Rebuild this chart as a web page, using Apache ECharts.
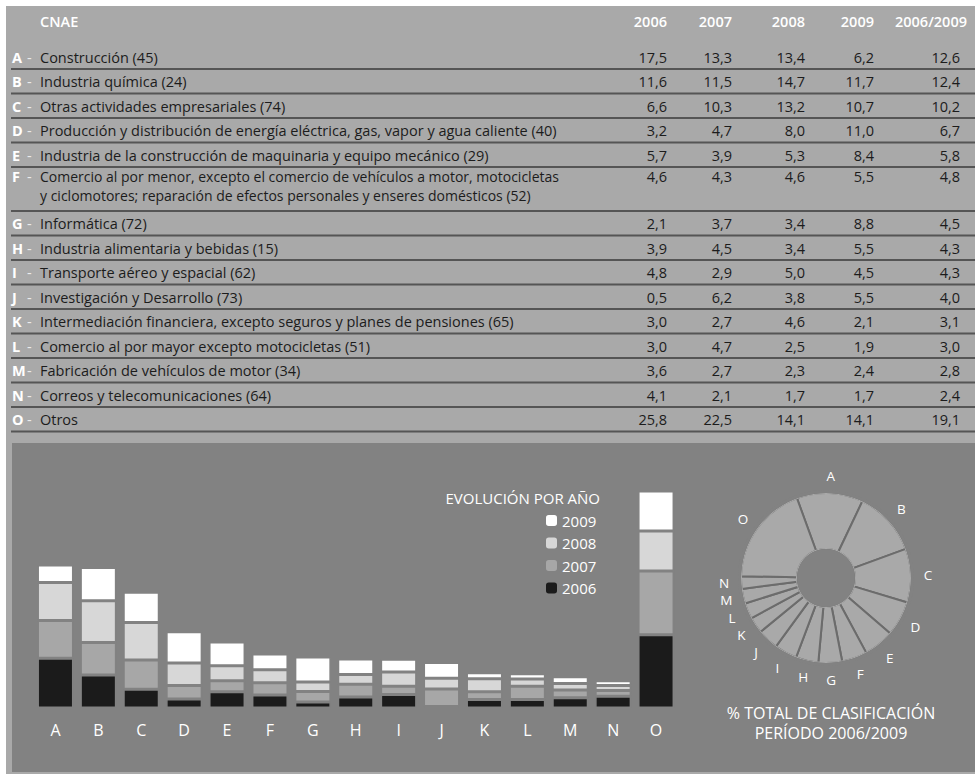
<!DOCTYPE html>
<html>
<head>
<meta charset="utf-8">
<script src="https://cdn.jsdelivr.net/npm/echarts@6/dist/echarts.min.js"></script>
<style>
  html, body { margin: 0; padding: 0; background: #ffffff; }
  #chart { width: 975px; height: 774px; }
</style>
</head>
<body>
<div id="chart"></div>
<script>
// CNAE sectors: letter codes, descriptions and yearly shares (%)
const codes = ['A','B','C','D','E','F','G','H','I','J','K','L','M','N','O'];
const descriptions = [
  ['Construcción (45)'],
  ['Industria química (24)'],
  ['Otras actividades empresariales (74)'],
  ['Producción y distribución de energía eléctrica, gas, vapor y agua caliente (40)'],
  ['Industria de la construcción de maquinaria y equipo mecánico (29)'],
  ['Comercio al por menor, excepto el comercio de vehículos a motor, motocicletas',
   'y ciclomotores; reparación de efectos personales y enseres domésticos (52)'],
  ['Informática (72)'],
  ['Industria alimentaria y bebidas (15)'],
  ['Transporte aéreo y espacial (62)'],
  ['Investigación y Desarrollo (73)'],
  ['Intermediación financiera, excepto seguros y planes de pensiones (65)'],
  ['Comercio al por mayor excepto motocicletas (51)'],
  ['Fabricación de vehículos de motor (34)'],
  ['Correos y telecomunicaciones (64)'],
  ['Otros']
];
const columnHeaders = ['2006','2007','2008','2009','2006/2009'];
const years = ['2006','2007','2008','2009'];
const v2006 = [17.5, 11.6, 6.6, 3.2, 5.7, 4.6, 2.1, 3.9, 4.8, 0.5, 3.0, 3.0, 3.6, 4.1, 25.8];
const v2007 = [13.3, 11.5, 10.3, 4.7, 3.9, 4.3, 3.7, 4.5, 2.9, 6.2, 2.7, 4.7, 2.7, 2.1, 22.5];
const v2008 = [13.4, 14.7, 13.2, 8.0, 5.3, 4.6, 3.4, 3.4, 5.0, 3.8, 4.6, 2.5, 2.3, 1.7, 14.1];
const v2009 = [6.2, 11.7, 10.7, 11.0, 8.4, 5.5, 8.8, 5.5, 4.5, 5.5, 2.1, 1.9, 2.4, 1.7, 14.1];
const vPeriod = [12.6, 12.4, 10.2, 6.7, 5.8, 4.8, 4.5, 4.3, 4.3, 4.0, 3.1, 3.0, 2.8, 2.4, 19.1];

const FONT = '"Open Sans", Lato, sans-serif';
const PAGE_GRAY = '#a9a9a9';
const PANEL_GRAY = '#828282';
const RULE_GRAY = '#555555';
const yearColors = { '2006': '#1b1b1b', '2007': '#a7a7a7', '2008': '#d7d7d7', '2009': '#ffffff' };
const yearValues = { '2006': v2006, '2007': v2007, '2008': v2008, '2009': v2009 };

const fmt = v => v.toFixed(1).replace('.', ',');
const TXT = '400 14.5px ' + FONT;

// ---- page frame and table drawn as graphic elements ----
const graphics = [];
graphics.push({ type: 'rect', z: -10, silent: true, shape: { x: 6, y: 6, width: 969, height: 768 }, style: { fill: PAGE_GRAY } });
graphics.push({ type: 'rect', z: -9, silent: true, shape: { x: 12, y: 443, width: 963, height: 329 }, style: { fill: PANEL_GRAY } });

const numRight = [667, 732, 805, 874, 960];
const headerY = 21;
graphics.push({ type: 'text', silent: true, style: { text: 'CNAE', x: 40, y: headerY, fill: '#ffffff', font: '600 14.5px ' + FONT, textVerticalAlign: 'middle' } });
columnHeaders.forEach((h, i) => {
  const last = i === columnHeaders.length - 1;
  graphics.push({ type: 'text', silent: true, style: {
    text: h, x: last ? 895 : numRight[i], y: headerY, fill: '#ffffff',
    font: '600 14.5px ' + FONT, textAlign: last ? 'left' : 'right', textVerticalAlign: 'middle' } });
});

let rowTop = 44.5;
codes.forEach((c, i) => {
  const lines = descriptions[i];
  const multi = lines.length > 1;
  const h = multi ? 44 : 24.5;
  const ty = rowTop + (multi ? 9.5 : 12.5);
  graphics.push({ type: 'text', silent: true, style: { text: c, x: 12, y: ty, fill: '#ffffff', font: '700 14.5px ' + FONT, lineHeight: 16, textVerticalAlign: 'middle' } });
  graphics.push({ type: 'text', silent: true, style: { text: '-', x: 27, y: ty, fill: '#ececec', font: TXT, lineHeight: 16, textVerticalAlign: 'middle' } });
  // description, wrapped lines in one text block
  const lh = multi ? 18.5 : 17;
  graphics.push({ type: 'text', silent: true, style: {
    text: lines.join('\n'), x: 40, y: ty - lh / 2, fill: '#1c1c1c', font: multi ? '400 14px ' + FONT : TXT,
    lineHeight: lh, textVerticalAlign: 'top' } });
  const rowVals = [v2006[i], v2007[i], v2008[i], v2009[i], vPeriod[i]];
  rowVals.forEach((v, j) => {
    graphics.push({ type: 'text', silent: true, style: { text: fmt(v), x: numRight[j], y: ty, fill: '#1c1c1c', font: TXT, lineHeight: 16, textAlign: 'right', textVerticalAlign: 'middle' } });
  });
  rowTop += h;
  graphics.push({ type: 'line', silent: true, shape: { x1: 11, y1: rowTop, x2: 975, y2: rowTop }, style: { stroke: RULE_GRAY, lineWidth: 2 } });
});

// legend heading and pie caption
graphics.push({ type: 'text', silent: true, style: { text: 'EVOLUCIÓN POR AÑO', x: 600, y: 498, fill: '#ffffff', font: '400 15px ' + FONT, textAlign: 'right', textVerticalAlign: 'middle' } });
graphics.push({ type: 'text', silent: true, style: { text: '% TOTAL DE CLASIFICACIÓN', x: 831, y: 713, fill: '#ffffff', font: '400 16px ' + FONT, textAlign: 'center', textVerticalAlign: 'middle' } });
graphics.push({ type: 'text', silent: true, style: { text: 'PERÍODO 2006/2009', x: 831, y: 733, fill: '#ffffff', font: '400 16px ' + FONT, textAlign: 'center', textVerticalAlign: 'middle' } });

// clean outer and inner edges of the ring chart (dividers only, no outline)
const PIE_C = [826, 578];
graphics.push({ type: 'ring', z: 100, silent: true, shape: { cx: PIE_C[0], cy: PIE_C[1], r0: 84, r: 85 }, style: { fill: PAGE_GRAY } });
graphics.push({ type: 'ring', z: 100, silent: true, shape: { cx: PIE_C[0], cy: PIE_C[1], r0: 85, r: 88 }, style: { fill: PANEL_GRAY } });
graphics.push({ type: 'ring', z: 100, silent: true, shape: { cx: PIE_C[0], cy: PIE_C[1], r0: 29, r: 30 }, style: { fill: PAGE_GRAY } });
graphics.push({ type: 'circle', z: 100, silent: true, shape: { cx: PIE_C[0], cy: PIE_C[1], r: 29 }, style: { fill: PANEL_GRAY } });

// ---- stacked bars per year ----
const barSeries = years.map(y => ({
  name: y,
  type: 'bar',
  stack: 'total',
  barWidth: 36,
  silent: true,
  itemStyle: { color: yearColors[y], borderColor: PANEL_GRAY, borderWidth: 1.5 },
  emphasis: { disabled: true },
  data: yearValues[y]
}));

const pieData = codes.map((c, i) => ({ name: c, value: vPeriod[i] }));

const chart = echarts.init(document.getElementById('chart'), null, { renderer: 'svg' });
chart.setOption({
  animation: false,
  backgroundColor: 'transparent',
  graphic: { elements: graphics },
  legend: {
    data: ['2009', '2008', '2007', '2006'],
    orient: 'vertical',
    left: 546, top: 513,
    itemWidth: 11, itemHeight: 11, itemGap: 7.5,
    padding: 0,
    selectedMode: false,
    itemStyle: { borderWidth: 0 },
    textStyle: { color: '#ffffff', fontSize: 15, fontFamily: FONT }
  },
  grid: { left: 34, top: 481, width: 643.5, height: 227, containLabel: false },
  xAxis: {
    type: 'category',
    data: codes,
    axisLine: { show: false },
    axisTick: { show: false },
    axisLabel: { color: '#ffffff', fontSize: 16, fontFamily: FONT, margin: 14 }
  },
  yAxis: { type: 'value', min: 0, max: 80, show: false },
  series: barSeries.concat([
    {
      type: 'pie',
      center: PIE_C,
      radius: [29, 85],
      startAngle: 110,
      clockwise: true,
      silent: true,
      label: { show: false },
      labelLine: { show: false },
      itemStyle: { color: PAGE_GRAY, borderColor: '#6c6c6c', borderWidth: 2 },
      data: pieData
    },
    {
      type: 'pie',
      center: PIE_C,
      radius: [98, 100],
      startAngle: 110,
      clockwise: true,
      silent: true,
      itemStyle: { color: 'rgba(0,0,0,0)', borderWidth: 0 },
      label: { show: true, position: 'inside', color: '#ffffff', fontSize: 13.5, lineHeight: 13, fontFamily: FONT, formatter: '{b}' },
      labelLine: { show: false },
      data: pieData
    }
  ])
});
</script>
</body>
</html>
